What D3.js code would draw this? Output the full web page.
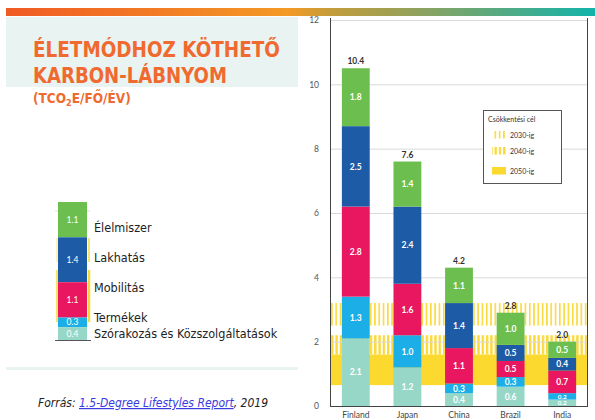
<!DOCTYPE html>
<html><head><meta charset="utf-8">
<script src="https://cdn.jsdelivr.net/npm/d3@7"></script>
<style>body{margin:0;background:#fff}svg{display:block}</style>
</head><body>
<svg id="c" width="595" height="420"></svg>
<script>
const categories = ["Finland","Japan","China","Brazil","India"];
const leisure  = [2.1,1.2,0.4,0.6,0.2];
const goods    = [1.3,1.0,0.3,0.3,0.2];
const mobility = [2.8,1.6,1.1,0.5,0.7];
const housing  = [2.5,2.4,1.4,0.5,0.4];
const food     = [1.8,1.4,1.1,1.0,0.5];
const totals   = [10.4,7.6,4.2,2.8,2.0];
const yTicks = [0,2,4,6,8,10,12];
const targetNames = ["2030-ig","2040-ig","2050-ig"];
const targetLow  = [2.5,1.6,0.65];
const targetHigh = [3.2,2.2,1.6];
const legendNames  = ["Élelmiszer","Lakhatás","Mobilitás","Termékek","Szórakozás és Közszolgáltatások"];
const legendValues = [1.1,1.4,1.1,0.3,0.4];

const seriesColors = ["#96d7c7","#1caee6","#e9175f","#1d5ba7","#6cbf4e"];
const series = [leisure,goods,mobility,housing,food];

const svg = d3.select("#c");
const defs = svg.append("defs");
const grad = defs.append("linearGradient").attr("id","topg");
[["0%","#f05a24"],["48%","#f39a26"],["55%","#c49c3a"],["70%","#8fa25e"],["100%","#12b3ab"]]
  .forEach(([o,c])=>grad.append("stop").attr("offset",o).attr("stop-color",c));
const p1 = defs.append("pattern").attr("id","p2030").attr("width",4.3).attr("height",10).attr("patternUnits","userSpaceOnUse");
p1.append("rect").attr("width",4.3).attr("height",10).attr("fill","#fff");
p1.append("rect").attr("width",1.6).attr("height",10).attr("fill","#fbd93a");
const p2 = defs.append("pattern").attr("id","p2040").attr("width",4.3).attr("height",10).attr("patternUnits","userSpaceOnUse");
p2.append("rect").attr("width",4.3).attr("height",10).attr("fill","#fff");
p2.append("rect").attr("width",2.4).attr("height",10).attr("fill","#fbd93a");
const targetFills = ["url(#p2030)","url(#p2040)","#fcd92e"];

// decor
svg.append("rect").attr("x",6).attr("y",8).attr("width",589).attr("height",8).attr("fill","url(#topg)");
svg.append("rect").attr("x",6).attr("y",17).attr("width",292).attr("height",70).attr("fill","#e9f3f1");
svg.append("rect").attr("x",6).attr("y",367).attr("width",292).attr("height",3).attr("fill","#e9f3f1");

// title
const tf = "'DejaVu Sans Condensed','DejaVu Sans',sans-serif";
const title = svg.append("g").attr("fill","#f06a30").attr("font-family",tf).attr("font-weight","bold").attr("font-stretch","condensed");
title.append("text").attr("x",33).attr("y",57).attr("font-size",21).attr("textLength",247).attr("lengthAdjust","spacingAndGlyphs").text("ÉLETMÓDHOZ KÖTHETŐ");
title.append("text").attr("x",33).attr("y",83).attr("font-size",21).attr("textLength",194).attr("lengthAdjust","spacingAndGlyphs").text("KARBON-LÁBNYOM");
const t3 = title.append("text").attr("x",33).attr("y",103).attr("font-size",13.5);
t3.append("tspan").text("(TCO");
t3.append("tspan").attr("font-size",9).attr("dy",3).text("2");
t3.append("tspan").attr("dy",-3).text("E/FŐ/ÉV)");

// left legend
const ly = d3.scaleLinear().domain([0, d3.sum(legendValues)]).range([340,202]);
const lg = svg.append("g");
lg.append("line").attr("x1",55).attr("x2",90).attr("y1",211).attr("y2",211).attr("stroke","#ddd");
lg.append("line").attr("x1",57).attr("x2",57).attr("y1",238).attr("y2",262).attr("stroke","#fbe27a").attr("stroke-width",1);
lg.append("line").attr("x1",89).attr("x2",89).attr("y1",238).attr("y2",262).attr("stroke","#fbd93a").attr("stroke-width",1.5);
lg.append("line").attr("x1",57).attr("x2",57).attr("y1",270).attr("y2",322).attr("stroke","#fbd93a").attr("stroke-width",1.5);
lg.append("line").attr("x1",89).attr("x2",89).attr("y1",270).attr("y2",322).attr("stroke","#fbd93a").attr("stroke-width",2.5);
let acc = 0;
const lcolors = [seriesColors[4],seriesColors[3],seriesColors[2],seriesColors[1],seriesColors[0]];
const lstack = legendValues.map(v=>0);
for (let i = legendValues.length-1; i>=0; i--) { lstack[i] = acc; acc += legendValues[i]; }
legendValues.forEach((v,i)=>{
  const y0 = ly(lstack[i]), y1 = ly(lstack[i]+v);
  lg.append("rect").attr("x",58).attr("y",y1).attr("width",29).attr("height",y0-y1).attr("fill",lcolors[i]);
  lg.append("text").attr("x",72.5).attr("y",(y0+y1)/2+3).attr("text-anchor","middle").attr("fill","#fff")
    .attr("font-family","Lato,sans-serif").attr("font-size",8.5).text(v.toFixed(1));
});
lg.append("line").attr("x1",55).attr("x2",91).attr("y1",340.5).attr("y2",340.5).attr("stroke","#555");
const lyText = [232,262,292,322,338];
legendNames.forEach((n,i)=>{
  lg.append("text").attr("x",94).attr("y",lyText[i]).attr("font-family",tf).attr("font-stretch","condensed")
    .attr("font-size",12.5).attr("fill","#222").text(n);
});

// source
const src = svg.append("text").attr("x",38).attr("y",407).attr("font-family",tf).attr("font-stretch","condensed")
  .attr("font-style","italic").attr("font-size",12).attr("fill","#222");
src.append("tspan").text("Forrás: ");
src.append("tspan").attr("fill","#3a3adf").attr("text-decoration","underline").text("1.5-Degree Lifestyles Report");
src.append("tspan").text(", 2019");

// main chart
const L = 330, R = 588, T = 18, B = 406;
const x = d3.scaleBand().domain(categories).range([L,R]).paddingInner(0.46).paddingOuter(0.23);
const y = d3.scaleLinear().domain([0,12]).range([B,T+2]);
const cf = "Lato,'Open Sans',sans-serif";
const g = svg.append("g");
targetNames.forEach((n,i)=>{
  g.append("rect").attr("x",L).attr("width",R-L).attr("y",y(targetHigh[i])).attr("height",y(targetLow[i])-y(targetHigh[i])).attr("fill",targetFills[i]);
});
g.append("g").selectAll("line").data(yTicks.filter(d=>d>0)).join("line")
  .attr("x1",L).attr("x2",R).attr("y1",d=>y(d)+0.5).attr("y2",d=>y(d)+0.5).attr("stroke","#d9d9d9").attr("stroke-width",1);
const yAxis = g.append("g").attr("transform",`translate(${L},0)`).call(d3.axisLeft(y).tickValues(yTicks).tickSize(0).tickPadding(11).tickFormat(d3.format("d")));
yAxis.select(".domain").remove();
yAxis.selectAll("text").attr("font-family",cf).attr("font-size",8.5).attr("fill","#555");
categories.forEach((c,ci)=>{
  let base = 0;
  series.forEach((s,si)=>{
    const v = s[ci];
    const y0 = y(base), y1 = y(base+v);
    g.append("rect").attr("x",x(c)).attr("width",x.bandwidth()).attr("y",y1).attr("height",y0-y1).attr("fill",seriesColors[si]);
    const small = (y0-y1) < 8;
    g.append("text").attr("x",x(c)+x.bandwidth()/2).attr("y",(y0+y1)/2+(small?2.4:3.2)).attr("text-anchor","middle")
      .attr("font-family",cf).attr("font-weight","bold").attr("font-size",small?6.4:8.5).attr("fill","#fff").text(v.toFixed(1));
    base += v;
  });
  g.append("text").attr("x",x(c)+x.bandwidth()/2).attr("y",y(base)-4).attr("text-anchor","middle")
    .attr("font-family",cf).attr("font-weight","bold").attr("font-size",8.5).attr("fill","#333").text(totals[ci].toFixed(1));
});
const xAxis = g.append("g").attr("transform",`translate(0,${B})`).call(d3.axisBottom(x).tickSize(0).tickPadding(6));
xAxis.select(".domain").remove();
xAxis.selectAll("text").attr("font-family",cf).attr("font-size",8.5).attr("fill","#444");
g.append("line").attr("x1",L+0.5).attr("x2",L+0.5).attr("y1",T).attr("y2",B).attr("stroke","#444");
g.append("line").attr("x1",R-0.5).attr("x2",R-0.5).attr("y1",T).attr("y2",B).attr("stroke","#444");
g.append("line").attr("x1",L).attr("x2",R).attr("y1",B+0.5).attr("y2",B+0.5).attr("stroke","#444");

const tl = g.append("g");
tl.append("rect").attr("x",483.5).attr("y",110.5).attr("width",78).attr("height",73).attr("fill","#fff").attr("stroke","#555");
tl.append("text").attr("x",488).attr("y",122).attr("font-family",cf).attr("font-size",7).attr("fill","#333").text("Csökkentési cél");
const tRows = [131,147,167];
targetNames.forEach((n,i)=>{
  tl.append("rect").attr("x",492).attr("y",tRows[i]).attr("width",14).attr("height",7.5).attr("fill",targetFills[i]);
  tl.append("text").attr("x",510).attr("y",tRows[i]+6.5).attr("font-family",cf).attr("font-size",7).attr("fill","#333").text(n);
});
</script>
</body></html>
